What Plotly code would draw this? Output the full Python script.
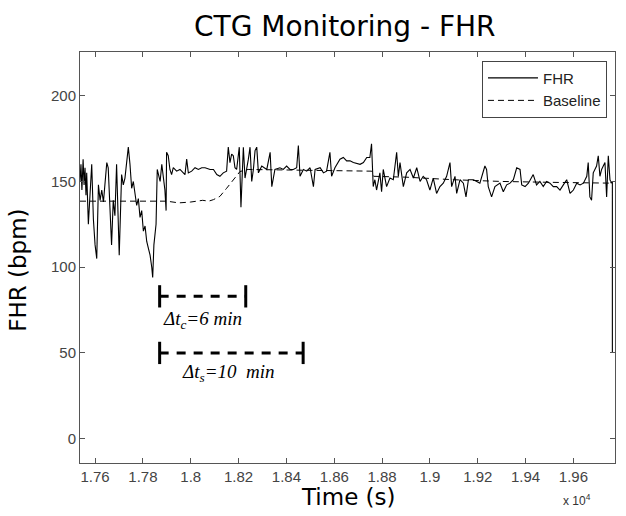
import plotly.graph_objects as go

# ---- data ----
fhr_t = [17537, 17541, 17545, 17550, 17554, 17558, 17562, 17565, 17572, 17579, 17586, 17593, 17600, 17607,
         17614, 17621, 17628, 17635, 17642, 17649, 17655, 17662, 17669, 17676, 17683, 17690, 17696, 17701,
         17711, 17718, 17725, 17732, 17739, 17746, 17753, 17760, 17767, 17774, 17781, 17788, 17795, 17802,
         17809, 17816, 17823, 17830, 17837, 17841, 17846, 17855, 17860, 17866, 17872, 17879, 17885, 17892,
         17897, 17899, 17906, 17913, 17920, 17927, 17941, 17955, 17969, 17976, 17983, 17990, 18004, 18018,
         18032, 18046, 18060, 18081, 18095, 18109, 18122, 18136, 18150, 18157, 18164, 18171, 18178, 18185,
         18192, 18203, 18210, 18216, 18220, 18227, 18234, 18241, 18248, 18255, 18262, 18269, 18276, 18283,
         18290, 18297, 18318, 18332, 18339, 18352, 18373, 18387, 18401, 18415, 18429, 18443, 18450, 18457,
         18471, 18485, 18499, 18513, 18520, 18541, 18555, 18568, 18582, 18589, 18603, 18624, 18638, 18652,
         18666, 18680, 18708, 18722, 18736, 18749, 18756, 18763, 18770, 18777, 18791, 18798, 18805, 18819,
         18833, 18847, 18861, 18868, 18875, 18889, 18903, 18917, 18931, 18945, 18959, 18972, 18986, 19000,
         19014, 19028, 19042, 19056, 19070, 19084, 19091, 19105, 19112, 19126, 19140, 19151, 19161, 19182,
         19196, 19209, 19230, 19237, 19244, 19258, 19272, 19293, 19307, 19321, 19335, 19349, 19363, 19377,
         19384, 19398, 19412, 19432, 19446, 19460, 19474, 19488, 19502, 19516, 19530, 19544, 19558, 19572,
         19586, 19600, 19614, 19628, 19642, 19656, 19662, 19669, 19676, 19683, 19697, 19704, 19711, 19718,
         19732, 19739, 19746, 19753, 19758, 19763, 19763]
fhr_bpm = [150, 160, 145, 163, 148, 158, 142, 155, 125, 140, 160, 128, 113, 105,
           148, 139, 145, 138, 150, 161, 158, 132, 113, 139, 130, 160, 135, 107,
           154, 148, 152, 160, 170, 160, 146, 150, 144, 136, 140, 129, 133, 121,
           124, 115, 111, 107, 100, 94, 113, 125, 157, 154, 150, 160, 152, 145,
           133, 167, 165, 157, 154, 158, 156, 157, 155, 154, 163, 155, 156, 158,
           157, 158, 158, 157, 157, 154, 153, 155, 156, 170, 161, 166, 165, 158,
           157, 170, 135, 160, 170, 152, 157, 163, 170, 150, 157, 168, 170, 155,
           157, 159, 157, 167, 147, 157, 158, 157, 159, 157, 157, 158, 171, 153,
           157, 156, 158, 147, 157, 158, 155, 156, 167, 153, 158, 163, 164, 162,
           162, 161, 160, 161, 164, 164, 172, 147, 151, 145, 155, 144, 157, 147,
           152, 151, 167, 153, 161, 147, 155, 157, 152, 158, 150, 153, 151, 145,
           152, 143, 147, 149, 153, 161, 147, 153, 143, 151, 149, 141, 151, 151,
           150, 149, 159, 157, 147, 141, 147, 149, 144, 148, 149, 151, 158, 157,
           148, 147, 149, 154, 148, 150, 147, 150, 149, 147, 147, 145, 148, 151,
           143, 145, 149, 148, 149, 153, 161, 141, 139, 155, 159, 165, 153, 157,
           161, 141, 165, 151, 149, 150, 50]

base_t = [17537, 17900, 17950, 18000, 18050, 18075, 18095, 18122, 18150, 18178, 18206, 18240,
          18400, 18600, 18757, 18765, 18900, 19100, 19300, 19500, 19763]
base_bpm = [138.5, 138.5, 137.5, 138, 139, 138.5, 139.4, 141.3, 146, 151, 155.8, 157,
            156.8, 156.3, 156, 153, 152.5, 151, 150, 149.5, 149]

x_ticks = [17600, 17800, 18000, 18200, 18400, 18600, 18800, 19000, 19200, 19400, 19600]
x_tick_text = ["1.76", "1.78", "1.8", "1.82", "1.84", "1.86", "1.88", "1.9", "1.92", "1.94", "1.96"]
y_ticks = [0, 50, 100, 150, 200]

# annotation intervals (s) and levels (bpm)
dt_start = 17870
dt_c_end = 18230   # 6 min
dt_s_end = 18470   # 10 min
dt_c_level = 83
dt_s_level = 50
cap_half = 6.5

fig = go.Figure()
fig.add_trace(go.Scatter(x=fhr_t, y=fhr_bpm, mode="lines", name="FHR",
                         line=dict(color="black", width=1.1)))
fig.add_trace(go.Scatter(x=base_t, y=base_bpm, mode="lines", name="Baseline",
                         line=dict(color="black", width=1, dash="6px,4px")))

shapes = []
for end, lvl in [(dt_c_end, dt_c_level), (dt_s_end, dt_s_level)]:
    shapes.append(dict(type="line", xref="x", yref="y", x0=dt_start, x1=end, y0=lvl, y1=lvl,
                       line=dict(color="black", width=3, dash="9px,8px")))
    for xx in (dt_start, end):
        shapes.append(dict(type="line", xref="x", yref="y", x0=xx, x1=xx,
                           y0=lvl - cap_half, y1=lvl + cap_half,
                           line=dict(color="black", width=3)))

serif = dict(family="Liberation Serif", size=19, color="black")
label_font = dict(family="DejaVu Sans", size=23, color="black")
annotations = [
    dict(x=18051, y=69.4, xref="x", yref="y", text="<i>Δt<sub>c</sub>=6 min</i>",
         showarrow=False, font=serif),
    dict(x=18156, y=38.5, xref="x", yref="y", text="<i>Δt<sub>s</sub>=10&nbsp;&nbsp;min</i>",
         showarrow=False, font=serif),
    dict(x=0.501, y=-0.082, xref="paper", yref="paper", text="Time (s)", yanchor="middle",
         showarrow=False, font=label_font),
    dict(x=-0.116, y=0.47, xref="paper", yref="paper", text="FHR (bpm)", textangle=-90,
         xanchor="center", yanchor="middle", showarrow=False, font=label_font),
    dict(x=0.959, y=-0.089, xref="paper", yref="paper", text="x 10<sup>4</sup>", yanchor="middle",
         showarrow=False, font=dict(family="Liberation Sans", size=12, color="#333")),
]

axis_common = dict(showline=True, linecolor="#555", linewidth=1, mirror="ticks",
                   ticks="inside", ticklen=5, tickcolor="#555", showgrid=False, zeroline=False,
                   automargin=False,
                   tickfont=dict(family="Liberation Sans", size=15, color="#444"))

fig.update_layout(
    width=626, height=516,
    paper_bgcolor="white", plot_bgcolor="white",
    margin=dict(l=80, r=11, t=52, b=53),
    title=dict(text="CTG Monitoring - FHR", x=0.495, xref="paper", xanchor="center",
               y=1 - 26 / 516, yref="container", yanchor="middle", automargin=False,
               font=dict(family="DejaVu Sans", size=28, color="black")),
    xaxis=dict(range=[17537, 19774], tickvals=x_ticks, ticktext=x_tick_text, **axis_common),
    yaxis=dict(range=[-14.2, 225.5], tickvals=y_ticks, **axis_common),
    legend=dict(x=0.985, y=0.979, xanchor="right", yanchor="top", itemwidth=50,
                bordercolor="#444", borderwidth=1, bgcolor="white",
                font=dict(family="Liberation Sans", size=15, color="#222")),
    shapes=shapes,
    annotations=annotations,
)

fig.write_html("out.html", config={"displayModeBar": False},
               post_script="document.body.style.margin='0px';document.body.style.overflow='hidden';")
